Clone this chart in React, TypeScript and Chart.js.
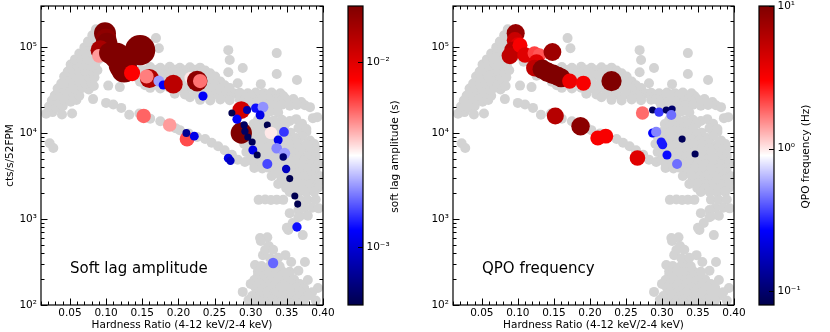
import React, { useEffect, useRef } from 'react';
import { Chart, registerables } from 'chart.js';

Chart.register(...registerables);

const FONT = 'DejaVu Sans';

// ---- axis ticks / ranges ----
const hardnessTicks = [0.05, 0.1, 0.15, 0.2, 0.25, 0.3, 0.35, 0.4];
const rateTicks = [1e2, 1e3, 1e4, 1e5];
const lagTicks = [1e-3, 1e-2];
const qpoTicks = [0.1, 1, 10];
const hardnessRange = [0.01, 0.4];
const rateRange = [100, 300000];
const lagRange = [4.9e-4, 2e-2];
const qpoRange = [0.08, 10];

// ---- all observations (grey): [hardness ratio, count rate] ----
const greyTrack: [number, number][] = [
  [0.017,16800],[0.026,17500],
  [0.021,20300],[0.031,19600],[0.040,20500],
  [0.025,23900],[0.033,23200],[0.043,24000],[0.051,23100],[0.059,24200],
  [0.029,27300],[0.037,28200],[0.046,27500],[0.055,28400],[0.063,27100],
  [0.033,32900],[0.042,31900],[0.050,33100],[0.059,32200],[0.067,33400],[0.076,32000],
  [0.038,37600],[0.047,38700],[0.055,37800],[0.063,38900],[0.072,37400],[0.080,38600],
  [0.042,45500],[0.050,44100],[0.059,45300],[0.067,44200],[0.075,45800],[0.084,44400],
  [0.047,52000],[0.055,53400],[0.063,51800],[0.071,53100],[0.080,52300],[0.088,53800],
  [0.051,62500],[0.060,61000],[0.068,62800],[0.077,61200],[0.085,62600],
  [0.057,71800],[0.066,73300],[0.074,71500],[0.082,73700],[0.090,72000],
  [0.063,84200],[0.071,86100],[0.080,84600],[0.088,86300],
  [0.070,99000],[0.078,101500],[0.086,99200],[0.094,101000],
  [0.075,116000],[0.084,118500],[0.092,115500],
  [0.081,137000],[0.089,139500],
  [0.086,161000],
  [0.039,16400],[0.053,16900],[0.022,7600],[0.027,6700],
  [0.083,35200],[0.103,35600],[0.119,34200],
  [0.082,24800],[0.100,22400],[0.110,21500],[0.121,19600],[0.132,16300],[0.146,16900],[0.161,14700],
  [0.175,13700],[0.196,11400],[0.202,10800],[0.214,9900],[0.226,9000],[0.237,8500],[0.246,7700],
  [0.255,7000],[0.264,6300],[0.274,5600],[0.282,4900],[0.292,4600],
  [0.096,92000],[0.099,79000],[0.105,78000],
  [0.108,67500],[0.116,66500],[0.125,67800],[0.133,66000],
  [0.161,58500],[0.175,57500],[0.188,58800],[0.202,57300],[0.216,58200],[0.230,57600],
  [0.119,54500],[0.133,53600],[0.147,54800],[0.154,53700],[0.168,54200],[0.181,53500],[0.195,54600],[0.209,53800],[0.223,54400],[0.237,53300],
  [0.172,50000],[0.186,49500],[0.200,50400],[0.214,49700],[0.228,50200],[0.244,49600],
  [0.126,46300],[0.140,45500],[0.154,46600],[0.168,45700],[0.181,46400],[0.195,45400],[0.209,46700],[0.223,45600],[0.237,46200],[0.251,45300],
  [0.147,39500],[0.161,38800],[0.175,39800],[0.188,38900],[0.202,39600],[0.216,38700],[0.230,39400],[0.244,38600],[0.258,39700],
  [0.154,36000],[0.168,36400],[0.181,35800],[0.195,36500],[0.209,35900],[0.223,36300],[0.237,35700],[0.251,36200],[0.264,35900],
  [0.161,33500],[0.175,32900],[0.188,33700],[0.202,33000],[0.216,33600],[0.230,32800],[0.244,33400],[0.258,32700],[0.271,33300],
  [0.195,28600],[0.209,28100],[0.223,28700],[0.237,28000],[0.251,28500],[0.265,28200],[0.278,28800],
  [0.216,26000],[0.230,26300],[0.244,25800],[0.258,26200],[0.271,25900],[0.290,26100],
  [0.230,24300],[0.244,23900],[0.258,24500],[0.271,24000],[0.285,24400],
  [0.169,127000],[0.173,97000],[0.269,92000],[0.271,70600],[0.269,51000],[0.289,57000],
  [0.336,85000],[0.336,48500],[0.364,41300],[0.282,38000],[0.314,37000],
  [0.285,29400],[0.296,29000],[0.307,29600],[0.318,29100],[0.329,29500],[0.341,29000],
  [0.290,27200],[0.301,27000],[0.312,27400],[0.323,27100],[0.334,27300],[0.345,26900],
  [0.292,24800],[0.303,25100],[0.314,24600],[0.325,25000],[0.336,24700],[0.348,25200],[0.359,24900],
  [0.297,23000],[0.308,22800],[0.319,23200],[0.330,22900],[0.341,23100],[0.352,22700],[0.370,22900],
  [0.299,21200],[0.310,20900],[0.321,21400],[0.332,21000],[0.343,21300],[0.354,20800],[0.364,21200],[0.375,21000],
  [0.386,14900],[0.363,14500],[0.354,13800],[0.382,20000],[0.392,15300],[0.349,9700],[0.363,8750],[0.366,6500],
  [0.316,17500],[0.327,17800],[0.338,17300],
  [0.310,14200],[0.321,14500],[0.332,14000],[0.343,14300],
  [0.304,12700],[0.315,12600],[0.326,12800],[0.337,12600],[0.348,12700],[0.371,12800],
  [0.310,11400],[0.321,11200],[0.332,11500],[0.343,11300],[0.366,11400],[0.377,11100],
  [0.300,10300],[0.311,10200],[0.322,10400],[0.333,10200],[0.344,10300],[0.355,10100],[0.377,10300],
  [0.294,9200],[0.305,9300],[0.316,9100],[0.327,9300],[0.338,9100],[0.349,9250],[0.371,9200],
  [0.297,8300],[0.308,8250],[0.319,8400],[0.330,8200],[0.341,8350],[0.352,8250],[0.363,8300],[0.382,8200],
  [0.291,7450],[0.302,7500],[0.310,7350],[0.321,7500],[0.332,7400],[0.343,7550],[0.354,7400],[0.366,7500],[0.377,7350],[0.388,7450],
  [0.300,6700],[0.311,6650],[0.322,6750],[0.333,6650],[0.344,6700],[0.355,6600],[0.366,6700],[0.377,6650],[0.390,6700],
  [0.294,6000],[0.305,6100],[0.313,5950],[0.324,6050],[0.335,5950],[0.346,6100],[0.357,5950],[0.368,6050],[0.382,6000],
  [0.302,5400],[0.313,5350],[0.324,5450],[0.335,5380],[0.346,5420],[0.357,5350],[0.368,5400],[0.379,5380],[0.390,5420],
  [0.299,4860],[0.310,4800],[0.319,4900],[0.329,4800],[0.341,4900],[0.352,4800],[0.363,4900],[0.374,4850],[0.385,4800],
  [0.305,4360],[0.316,4320],[0.327,4400],[0.338,4340],[0.349,4380],[0.360,4330],[0.371,4370],[0.382,4340],[0.393,4380],
  [0.305,3920],[0.316,3880],[0.324,3960],[0.335,3900],[0.346,3950],[0.357,3880],[0.368,3940],[0.379,3900],[0.390,3950],
  [0.335,3520],[0.346,3500],[0.357,3540],[0.368,3510],[0.379,3530],[0.390,3500],
  [0.329,3160],[0.341,3200],[0.352,3140],[0.363,3180],[0.374,3150],[0.385,3200],[0.396,3150],
  [0.343,2850],[0.354,2830],[0.366,2870],[0.377,2840],[0.388,2860],[0.397,2840],
  [0.338,2550],[0.349,2580],[0.360,2530],[0.371,2560],[0.382,2540],[0.393,2570],
  [0.349,2300],[0.360,2290],[0.371,2310],[0.382,2295],[0.393,2305],
  [0.354,2060],[0.366,2080],[0.377,2040],[0.388,2070],
  [0.311,1670],[0.320,1690],[0.328,1660],[0.336,1680],[0.345,1670],[0.368,1680],[0.379,1660],[0.390,1690],
  [0.374,1340],[0.385,1350],[0.394,1330],
  [0.368,1080],[0.379,1090],
  [0.366,1270],[0.372,650],[0.352,745],[0.350,790],[0.358,900],[0.354,1170],[0.366,1050],
  [0.313,600],[0.323,615],[0.314,555],[0.325,485],[0.317,380],[0.348,380],[0.356,316],[0.334,292],
  [0.306,292],[0.289,142],[0.393,158],[0.379,195],[0.375,316],
  [0.315,284],[0.327,288],[0.340,282],
  [0.310,245],[0.321,250],[0.332,242],[0.343,248],[0.354,244],[0.366,250],
  [0.310,220],[0.321,222],[0.332,218],[0.343,221],[0.354,219],
  [0.305,195],[0.316,198],[0.327,193],[0.338,197],[0.349,194],[0.360,198],
  [0.300,176],[0.312,178],[0.323,175],[0.334,177],[0.345,174],[0.356,177],[0.368,175],
  [0.307,158],[0.318,160],[0.329,156],[0.341,159],[0.352,157],[0.363,160],[0.374,157],
  [0.312,142],[0.323,143],[0.334,141],[0.345,142],[0.356,140],[0.368,143],[0.385,141],
  [0.302,127],[0.313,129],[0.324,126],[0.335,128],[0.346,126],[0.357,129],[0.368,127],[0.379,128],
  [0.297,114],[0.308,115],[0.319,113],[0.330,115],[0.341,114],[0.352,113],[0.363,115],[0.374,114],[0.390,113],
  [0.307,105],[0.318,106],[0.329,104],[0.341,106],[0.352,105],[0.363,104],
  [0.327,350],[0.338,355],[0.320,436],[0.331,440],
];

// ---- soft lag observations: [hardness, rate, lag amplitude (s)] ----
const softLag: [number, number, number][] = [
  [0.0985,145000,0.022],[0.100,125000,0.018],[0.101,110000,0.020],[0.092,92000,0.015],
  [0.090,79000,0.0045],[0.105,85000,0.02],[0.115,79000,0.04],[0.123,62000,0.05],
  [0.125,55000,0.04],[0.147,92000,0.065],[0.160,43000,0.014],[0.136,49800,0.008],
  [0.156,45500,0.005],[0.173,40200,0.0022],[0.179,36200,0.0012],[0.193,37000,0.013],
  [0.217,43600,0.0034],[0.226,40200,0.018],[0.230,40200,0.0052],[0.234,26900,0.0012],
  [0.152,15800,0.0055],[0.188,12400,0.0045],[0.212,8500,0.006],[0.211,10000,0.0007],
  [0.222,9200,0.0011],[0.269,5100,0.0011],[0.272,4750,0.0009],[0.287,18500,0.011],
  [0.287,10000,0.02],[0.274,17100,0.0005],[0.281,14500,0.0012],[0.295,18500,0.0008],
  [0.307,19500,0.0013],[0.317,20000,0.0021],[0.313,16200,0.0011],[0.291,12400,0.00055],
  [0.292,10500,0.00055],[0.296,9000,0.00052],[0.302,7850,0.00052],[0.303,6350,0.0011],
  [0.309,5550,0.0005],[0.323,12400,0.0005],[0.328,10000,0.0034],[0.346,10300,0.0015],
  [0.338,8300,0.0011],[0.336,6650,0.002],[0.347,5800,0.0022],[0.345,5250,0.0006],
  [0.323,4360,0.0016],[0.349,3820,0.0009],[0.354,2950,0.0005],[0.361,1850,0.0005],
  [0.365,1490,0.0005],[0.364,807,0.0013],[0.331,308,0.0018],
];

// ---- QPO observations: [hardness, rate, QPO frequency (Hz)] ----
const qpoObs: [number, number, number][] = [
  [0.097,145000,8],[0.096,120000,5],[0.100,105000,4],[0.093,92000,6],[0.089,79000,5.5],
  [0.103,105000,3.2],[0.110,80700,4],[0.123,85000,2.2],[0.130,80700,2.0],[0.126,67000,4],
  [0.123,57000,5.5],[0.148,87500,7.5],[0.134,55000,12],[0.141,51000,12],[0.148,48500,12],
  [0.155,46000,11],[0.160,44000,10],[0.172,40200,3.5],[0.191,38000,3.2],[0.230,40200,14],
  [0.152,15800,6],[0.187,12000,9],[0.211,8750,3.2],[0.222,9200,3.2],[0.266,5120,4],
  [0.273,17100,1.8],[0.287,18500,0.087],[0.296,17500,0.35],[0.306,18500,0.09],[0.314,19000,0.1],
  [0.313,16200,0.45],[0.287,10000,0.27],[0.292,10300,0.5],[0.299,7850,0.3],[0.301,7300,0.3],
  [0.307,5550,0.28],[0.328,8500,0.087],[0.346,5700,0.087],[0.321,4360,0.45],
];

// ---- helpers ----
const SEISMIC = [[0, 0, 0.3], [0, 0, 1], [1, 1, 1], [1, 0, 0], [0.5, 0, 0]];
function seismic(t: number) {
  t = Math.min(1, Math.max(0, t));
  const s = t * 4;
  const i = Math.min(3, Math.floor(s));
  const f = s - i;
  const a = SEISMIC[i], b = SEISMIC[i + 1];
  const c = [0, 1, 2].map((k) => Math.round(255 * (a[k] + (b[k] - a[k]) * f)));
  return `rgb(${c[0]},${c[1]},${c[2]})`;
}
const logNorm = (v: number, r: number[]) =>
  (Math.log10(v) - Math.log10(r[0])) / (Math.log10(r[1]) - Math.log10(r[0]));

const SUP: Record<string, string> = {
  '0': '⁰', '1': '¹', '2': '²', '3': '³', '4': '⁴', '5': '⁵', '6': '⁶', '7': '⁷', '8': '⁸', '9': '⁹', '-': '⁻',
};
const powLabel = (v: number) =>
  '10' + String(Math.round(Math.log10(v))).split('').map((c) => SUP[c] || c).join('');

Chart.defaults.font.family = FONT;
Chart.defaults.font.size = 10.5;
Chart.defaults.color = '#000';

const zeroPad = (s: any) => { s.paddingTop = 0; s.paddingBottom = 0; s.paddingLeft = 0; s.paddingRight = 0; };

function mainDecor(label: string) {
  return {
    id: 'mainDecor',
    afterDatasetsDraw(chart: any) {
      const { ctx, chartArea: a, scales } = chart;
      const x = scales.x, y = scales.y;
      ctx.save();
      ctx.strokeStyle = '#000';
      ctx.lineWidth = 1;
      ctx.beginPath();
      for (let k = 1; k <= 40; k++) {
        const v = k / 100;
        if (v < x.min - 1e-9 || v > x.max + 1e-9) continue;
        const L = k % 5 === 0 ? 6.5 : 3.5;
        const px = Math.round(x.getPixelForValue(v)) + 0.5;
        ctx.moveTo(px, a.bottom); ctx.lineTo(px, a.bottom - L);
        ctx.moveTo(px, a.top); ctx.lineTo(px, a.top + L);
      }
      for (let e = 2; e <= 5; e++) {
        for (let m = 1; m <= 9; m++) {
          const v = m * Math.pow(10, e);
          if (v < y.min || v > y.max) continue;
          const L = m === 1 ? 6.5 : 3.5;
          const py = Math.round(y.getPixelForValue(v)) + 0.5;
          ctx.moveTo(a.left, py); ctx.lineTo(a.left + L, py);
          ctx.moveTo(a.right, py); ctx.lineTo(a.right - L, py);
        }
      }
      ctx.stroke();
      ctx.lineWidth = 1.2;
      ctx.strokeRect(a.left, a.top, a.right - a.left, a.bottom - a.top);
      ctx.fillStyle = '#000';
      ctx.font = `15px "${FONT}"`;
      ctx.textAlign = 'left';
      ctx.textBaseline = 'alphabetic';
      ctx.fillText(label, a.left + 29, a.bottom - 32);
      ctx.restore();
    },
  };
}

function mainConfig(obs: [number, number, number][], range: number[], radius: (v: number) => number,
  label: string, showYTitle: boolean, padRight: number) {
  return {
    type: 'scatter' as const,
    data: {
      datasets: [
        {
          data: obs.map((o) => ({ x: o[0], y: o[1] })),
          backgroundColor: (c: any) => seismic(logNorm(obs[c.dataIndex][2], range)),
          pointRadius: (c: any) => radius(obs[c.dataIndex][2]),
          pointBorderWidth: 0,
          borderWidth: 0,
          clip: 0,
          order: 1,
        },
        {
          data: greyTrack.map((g) => ({ x: g[0], y: g[1] })),
          backgroundColor: '#d3d3d3',
          pointRadius: 5,
          pointBorderWidth: 0,
          borderWidth: 0,
          clip: 0,
          order: 2,
        },
      ],
    },
    options: {
      responsive: false,
      animation: false as const,
      events: [],
      layout: { autoPadding: false, padding: { left: 0, top: 6, right: padRight, bottom: 0 } },
      plugins: { legend: { display: false }, tooltip: { enabled: false }, title: { display: false } },
      scales: {
        x: {
          type: 'linear' as const,
          min: hardnessRange[0],
          max: hardnessRange[1],
          grid: { display: false, drawTicks: false },
          border: { display: false },
          afterBuildTicks: (s: any) => { s.ticks = hardnessTicks.map((v) => ({ value: v })); },
          afterFit: (s: any) => { s.height = 27; zeroPad(s); },
          ticks: { autoSkip: false, maxRotation: 0, padding: 2, callback: (v: any) => Number(v).toFixed(2) },
          title: { display: true, text: 'Hardness Ratio (4-12 keV/2-4 keV)', padding: 0 },
        },
        y: {
          type: 'logarithmic' as const,
          min: rateRange[0],
          max: rateRange[1],
          grid: { display: false, drawTicks: false },
          border: { display: false },
          afterBuildTicks: (s: any) => { s.ticks = rateTicks.map((v) => ({ value: v })); },
          afterFit: (s: any) => { s.width = 41; zeroPad(s); },
          ticks: { autoSkip: false, padding: 4, callback: (v: any) => powLabel(Number(v)) },
          title: { display: showYTitle, text: 'cts/s/52FPM', padding: { top: 3.5, bottom: 0 } },
        },
      },
    },
    plugins: [mainDecor(label)],
  };
}

function colorbarConfig(range: number[], ticks: number[], title: string, padLeft: number, axisW: number) {
  return {
    type: 'scatter' as const,
    data: { datasets: [] as any[] },
    options: {
      responsive: false,
      animation: false as const,
      events: [],
      layout: { autoPadding: false, padding: { left: padLeft, top: 6, right: 0, bottom: 27 } },
      plugins: { legend: { display: false }, tooltip: { enabled: false } },
      scales: {
        x: { type: 'linear' as const, display: false, min: 0, max: 1 },
        y: {
          type: 'logarithmic' as const,
          position: 'right' as const,
          min: range[0],
          max: range[1],
          grid: { display: false, drawTicks: false },
          border: { display: false },
          afterBuildTicks: (s: any) => { s.ticks = ticks.map((v) => ({ value: v })); },
          afterFit: (s: any) => { s.width = axisW; zeroPad(s); },
          ticks: { autoSkip: false, padding: 3.5, callback: (v: any) => powLabel(Number(v)) },
        },
      },
    },
    plugins: [
      {
        id: 'cbDecor',
        beforeDatasetsDraw(chart: any) {
          const { ctx, chartArea: a, scales } = chart;
          const y = scales.y;
          ctx.save();
          for (let py = Math.floor(a.top); py < Math.ceil(a.bottom); py++) {
            const v = y.getValueForPixel(py + 0.5);
            ctx.fillStyle = seismic(logNorm(v, range));
            ctx.fillRect(a.left, py, a.right - a.left, 1);
          }
          ctx.strokeStyle = '#000';
          ctx.lineWidth = 1;
          ctx.beginPath();
          ticks.forEach((t) => {
            const py = Math.round(y.getPixelForValue(t)) + 0.5;
            ctx.moveTo(a.right, py); ctx.lineTo(a.right - 5, py);
          });
          ctx.stroke();
          ctx.lineWidth = 1.2;
          ctx.strokeRect(a.left, a.top, a.right - a.left, a.bottom - a.top);
          ctx.translate(a.right + 32, (a.top + a.bottom) / 2 + 1);
          ctx.rotate(-Math.PI / 2);
          ctx.fillStyle = '#000';
          ctx.font = `10.5px "${FONT}"`;
          ctx.textAlign = 'center';
          ctx.textBaseline = 'middle';
          ctx.fillText(title, 0, 0);
          ctx.restore();
        },
      },
    ],
  };
}

const lagRadius = (v: number) => 3.5 * Math.pow(v / lagRange[0], 0.3);
const qpoRadius = (v: number) => 3.5 * Math.pow(v / qpoRange[0], 0.206);

export default function App() {
  const c1 = useRef<HTMLCanvasElement>(null);
  const c2 = useRef<HTMLCanvasElement>(null);
  const c3 = useRef<HTMLCanvasElement>(null);
  const c4 = useRef<HTMLCanvasElement>(null);

  useEffect(() => {
    const charts = [
      new Chart(c1.current as any, mainConfig(softLag, lagRange, lagRadius, 'Soft lag amplitude', true, 17) as any),
      new Chart(c2.current as any, colorbarConfig(lagRange, lagTicks, 'soft lag amplitude (s)', 8, 49) as any),
      new Chart(c3.current as any, mainConfig(qpoObs, qpoRange, qpoRadius, 'QPO frequency', false, 18) as any),
      new Chart(c4.current as any, colorbarConfig(qpoRange, qpoTicks, 'QPO frequency (Hz)', 7, 56) as any),
    ];
    return () => charts.forEach((c) => c.destroy());
  }, []);

  const abs = (left: number) => ({ position: 'absolute' as const, left, top: 0 });
  return (
    <div style={{ position: 'absolute', left: 0, top: 0, width: 830, height: 332, background: '#fff' }}>
      <canvas ref={c1} width={340} height={332} style={abs(0)} />
      <canvas ref={c2} width={72} height={332} style={abs(340)} />
      <canvas ref={c3} width={340} height={332} style={abs(412)} />
      <canvas ref={c4} width={78} height={332} style={abs(752)} />
    </div>
  );
}
